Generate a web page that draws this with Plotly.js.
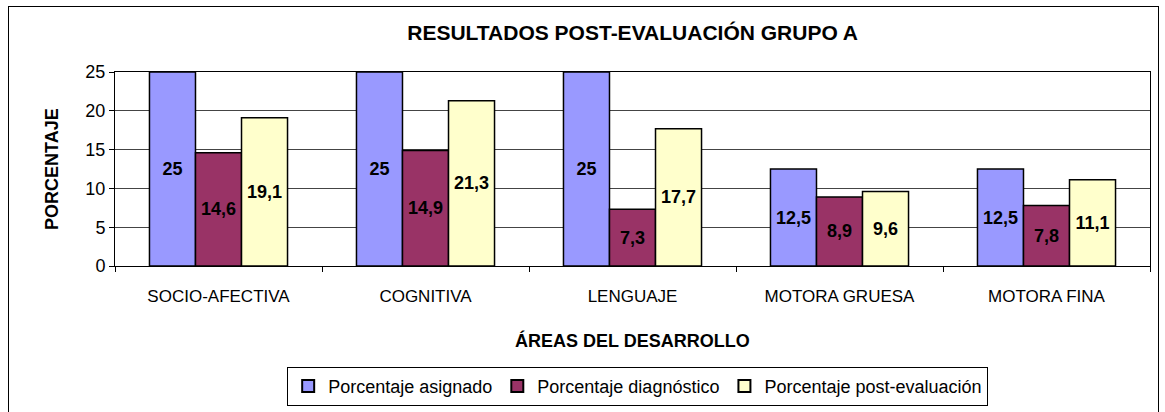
<!DOCTYPE html>
<html>
<head>
<meta charset="utf-8">
<script src="https://cdn.plot.ly/plotly-3.0.1.min.js"></script>
<style>
html,body{margin:0;padding:0;background:#fff;}
#wrap{position:relative;width:1165px;height:412px;overflow:hidden;}
#chart{position:absolute;left:0;top:0;width:1165px;height:412px;}
#frame{position:absolute;left:8px;top:6px;width:1149px;height:430px;border:1px solid #000;pointer-events:none;}
</style>
</head>
<body>
<div id="wrap"><div id="chart"></div><div id="frame"></div></div>
<script>
const categories = ["SOCIO-AFECTIVA", "COGNITIVA", "LENGUAJE", "MOTORA GRUESA", "MOTORA FINA"];
const asignado = [25, 25, 25, 12.5, 12.5];
const diagnostico = [14.6, 14.9, 7.3, 8.9, 7.8];
const postEvaluacion = [19.1, 21.3, 17.7, 9.6, 11.1];
const seriesNames = ["Porcentaje asignado", "Porcentaje diagnóstico", "Porcentaje post-evaluación"];
const seriesColors = ["#9999FF", "#993366", "#FFFFCC"];

const fmt = v => String(v).replace('.', ',');
const FONT = 'Arial, "Liberation Sans", sans-serif';

const traces = [asignado, diagnostico, postEvaluacion].map((vals, i) => ({
  type: 'bar',
  name: seriesNames[i],
  x: categories,
  y: vals,
  text: vals.map(fmt),
  textposition: 'inside',
  insidetextanchor: 'middle',
  constraintext: 'none',
  textangle: 0,
  textfont: {family: FONT, size: 18, color: '#000', weight: 'bold'},
  marker: {color: seriesColors[i], line: {color: '#000', width: 1.5}},
  hoverinfo: 'none'
}));

const layout = {
  width: 1165, height: 412,
  margin: {l: 115, r: 15, t: 72, b: 146, autoexpand: false},
  paper_bgcolor: '#fff', plot_bgcolor: '#fff',
  font: {family: FONT, color: '#000'},
  barmode: 'group',
  bargap: 0.333,
  bargroupgap: 0,
  showlegend: true,
  title: {text: '<b>RESULTADOS POST-EVALUACIÓN GRUPO A</b>', font: {size: 21, family: FONT, color: '#000'},
          x: 0.543, xanchor: 'center', y: 1 - 33/412, yanchor: 'middle', xref: 'container', yref: 'container'},
  xaxis: {
    type: 'category', automargin: false,
    showline: true, linecolor: '#000', linewidth: 1, mirror: true,
    ticks: 'outside', ticklen: 5, tickcolor: '#000', tickson: 'boundaries',
    tickfont: {size: 17, family: FONT, color: '#000'},
    ticklabelstandoff: 15,
    showgrid: false, zeroline: false
  },
  yaxis: {
    range: [0, 25], dtick: 5, tick0: 0, automargin: false,
    showline: true, linecolor: '#000', linewidth: 1, mirror: true,
    ticks: 'outside', ticklen: 5, tickcolor: '#000',
    tickfont: {size: 18, family: FONT, color: '#000'},
    showgrid: true, gridcolor: '#444', gridwidth: 1, zeroline: false
  },
  legend: {
    orientation: 'h', x: 0.505, xanchor: 'center', y: -0.52, yanchor: 'top',
    bordercolor: '#000', borderwidth: 1, bgcolor: '#fff',
    font: {size: 18, family: FONT, color: '#000'},
    itemsizing: 'constant', traceorder: 'normal'
  },
  annotations: [
    {text: '<b>ÁREAS DEL DESARROLLO</b>', xref: 'paper', yref: 'paper', x: 0.5, y: (266-340)/194,
     xanchor: 'center', yanchor: 'middle', showarrow: false, font: {size: 18, family: FONT, color: '#000'}},
    {text: '<b>PORCENTAJE</b>', xref: 'paper', yref: 'paper', x: (52-115)/1035, y: 0.5,
     xanchor: 'center', yanchor: 'middle', textangle: -90, showarrow: false, font: {size: 18, family: FONT, color: '#000'}}
  ]
};

Plotly.newPlot('chart', traces, layout, {displayModeBar: false, staticPlot: true});
</script>
</body>
</html>
